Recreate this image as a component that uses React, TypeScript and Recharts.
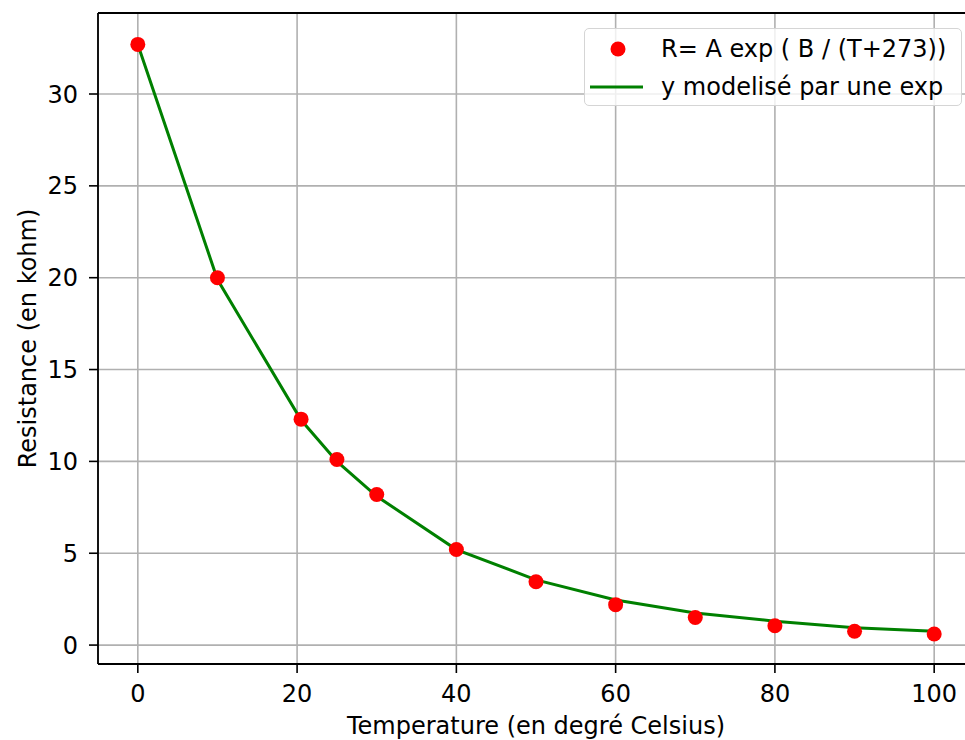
import {
    CartesianGrid,
    ComposedChart,
    Legend,
    Line,
    ReferenceLine,
    Scatter,
    XAxis,
    YAxis,
} from "recharts";

const temperatures = [0, 10, 20.5, 25, 30, 40, 50, 60, 70, 80, 90, 100];
const measured = [32.7, 20.0, 12.3, 10.1, 8.2, 5.2, 3.45, 2.2, 1.5, 1.05, 0.75, 0.6];
const modelled = [32.7, 19.9, 12.25, 10.0, 8.1, 5.2, 3.55, 2.45, 1.75, 1.3, 0.95, 0.75];

const xTicks = [0, 20, 40, 60, 80, 100];
const yTicks = [0, 5, 10, 15, 20, 25, 30];

const seriesNames = ["R= A exp ( B / (T+273))", "y modelisé par une exp"];
const axisTitles = ["Temperature (en degré Celsius)", "Resistance (en kohm)"];

const data = temperatures.map((t, i) => ({t, r: measured[i], fit: modelled[i]}));

const FONT = "'DejaVu Sans', sans-serif";
const tickStyle = {fontSize: 24, fill: "#000", fontFamily: FONT};
const Y_TOP = 34.41;

function RedDot({cx, cy}: {cx?: number; cy?: number}) {
    return <circle cx={cx} cy={cy} r={7.5} fill="#ff0000" />;
}

function LegendBox() {
    return (
        <div
            style={{
                width: 378,
                height: 78,
                border: "1.5px solid #d5d5d5",
                borderRadius: 5,
                background: "rgba(255,255,255,0.8)",
                fontFamily: FONT,
                fontSize: 24,
                color: "#000",
                boxSizing: "border-box",
            }}
        >
            <div style={{display: "flex", alignItems: "center", height: 38, marginTop: 1}}>
                <svg width={76} height={38}>
                    <circle cx={33} cy={19} r={7.5} fill="#ff0000" />
                </svg>
                <span>{seriesNames[0]}</span>
            </div>
            <div style={{display: "flex", alignItems: "center", height: 38}}>
                <svg width={76} height={38}>
                    <line x1={5} x2={58} y1={19} y2={19} stroke="#008000" strokeWidth={3} />
                </svg>
                <span>{seriesNames[1]}</span>
            </div>
        </div>
    );
}

export default function App() {
    return (
        <div style={{position: "fixed", left: 0, top: 0, width: 965, height: 740, overflow: "hidden", background: "#fff"}}>
            <ComposedChart
                width={1010}
                height={740}
                data={data}
                margin={{top: 13, right: 36, left: 10, bottom: 6}}
                style={{overflow: "hidden"}}
            >
                <CartesianGrid stroke="#b0b0b0" strokeWidth={1.6} />
                <XAxis
                    dataKey="t"
                    type="number"
                    domain={[-5, 105]}
                    ticks={xTicks}
                    height={70}
                    tickSize={9}
                    tickMargin={12}
                    tick={tickStyle}
                    stroke="#000"
                    axisLine={{stroke: "#000", strokeWidth: 1.8}}
                    tickLine={{stroke: "#000", strokeWidth: 1.6}}
                    label={{
                        value: axisTitles[0],
                        position: "insideBottom",
                        offset: 0,
                        style: {fontSize: 24, fill: "#000", fontFamily: FONT},
                    }}
                />
                <YAxis
                    type="number"
                    domain={[-1.03, Y_TOP]}
                    ticks={yTicks}
                    width={88}
                    tickSize={9}
                    tickMargin={11}
                    tick={tickStyle}
                    stroke="#000"
                    axisLine={{stroke: "#000", strokeWidth: 1.8}}
                    tickLine={{stroke: "#000", strokeWidth: 1.6}}
                    label={{
                        value: axisTitles[1],
                        angle: -90,
                        position: "insideLeft",
                        offset: 17,
                        style: {fontSize: 24, fill: "#000", fontFamily: FONT, textAnchor: "middle"},
                    }}
                />
                <ReferenceLine y={Y_TOP} stroke="#000" strokeWidth={1.8} ifOverflow="visible" />
                <Scatter name={seriesNames[0]} dataKey="r" fill="#ff0000" shape={<RedDot />} isAnimationActive={false} />
                <Line
                    name={seriesNames[1]}
                    dataKey="fit"
                    type="linear"
                    stroke="#008000"
                    strokeWidth={3}
                    dot={false}
                    activeDot={false}
                    isAnimationActive={false}
                />
                <Legend
                    layout="vertical"
                    align="center"
                    verticalAlign="middle"
                    content={<LegendBox />}
                    wrapperStyle={{position: "absolute", left: 584, top: 28, width: 378}}
                />
            </ComposedChart>
        </div>
    );
}
